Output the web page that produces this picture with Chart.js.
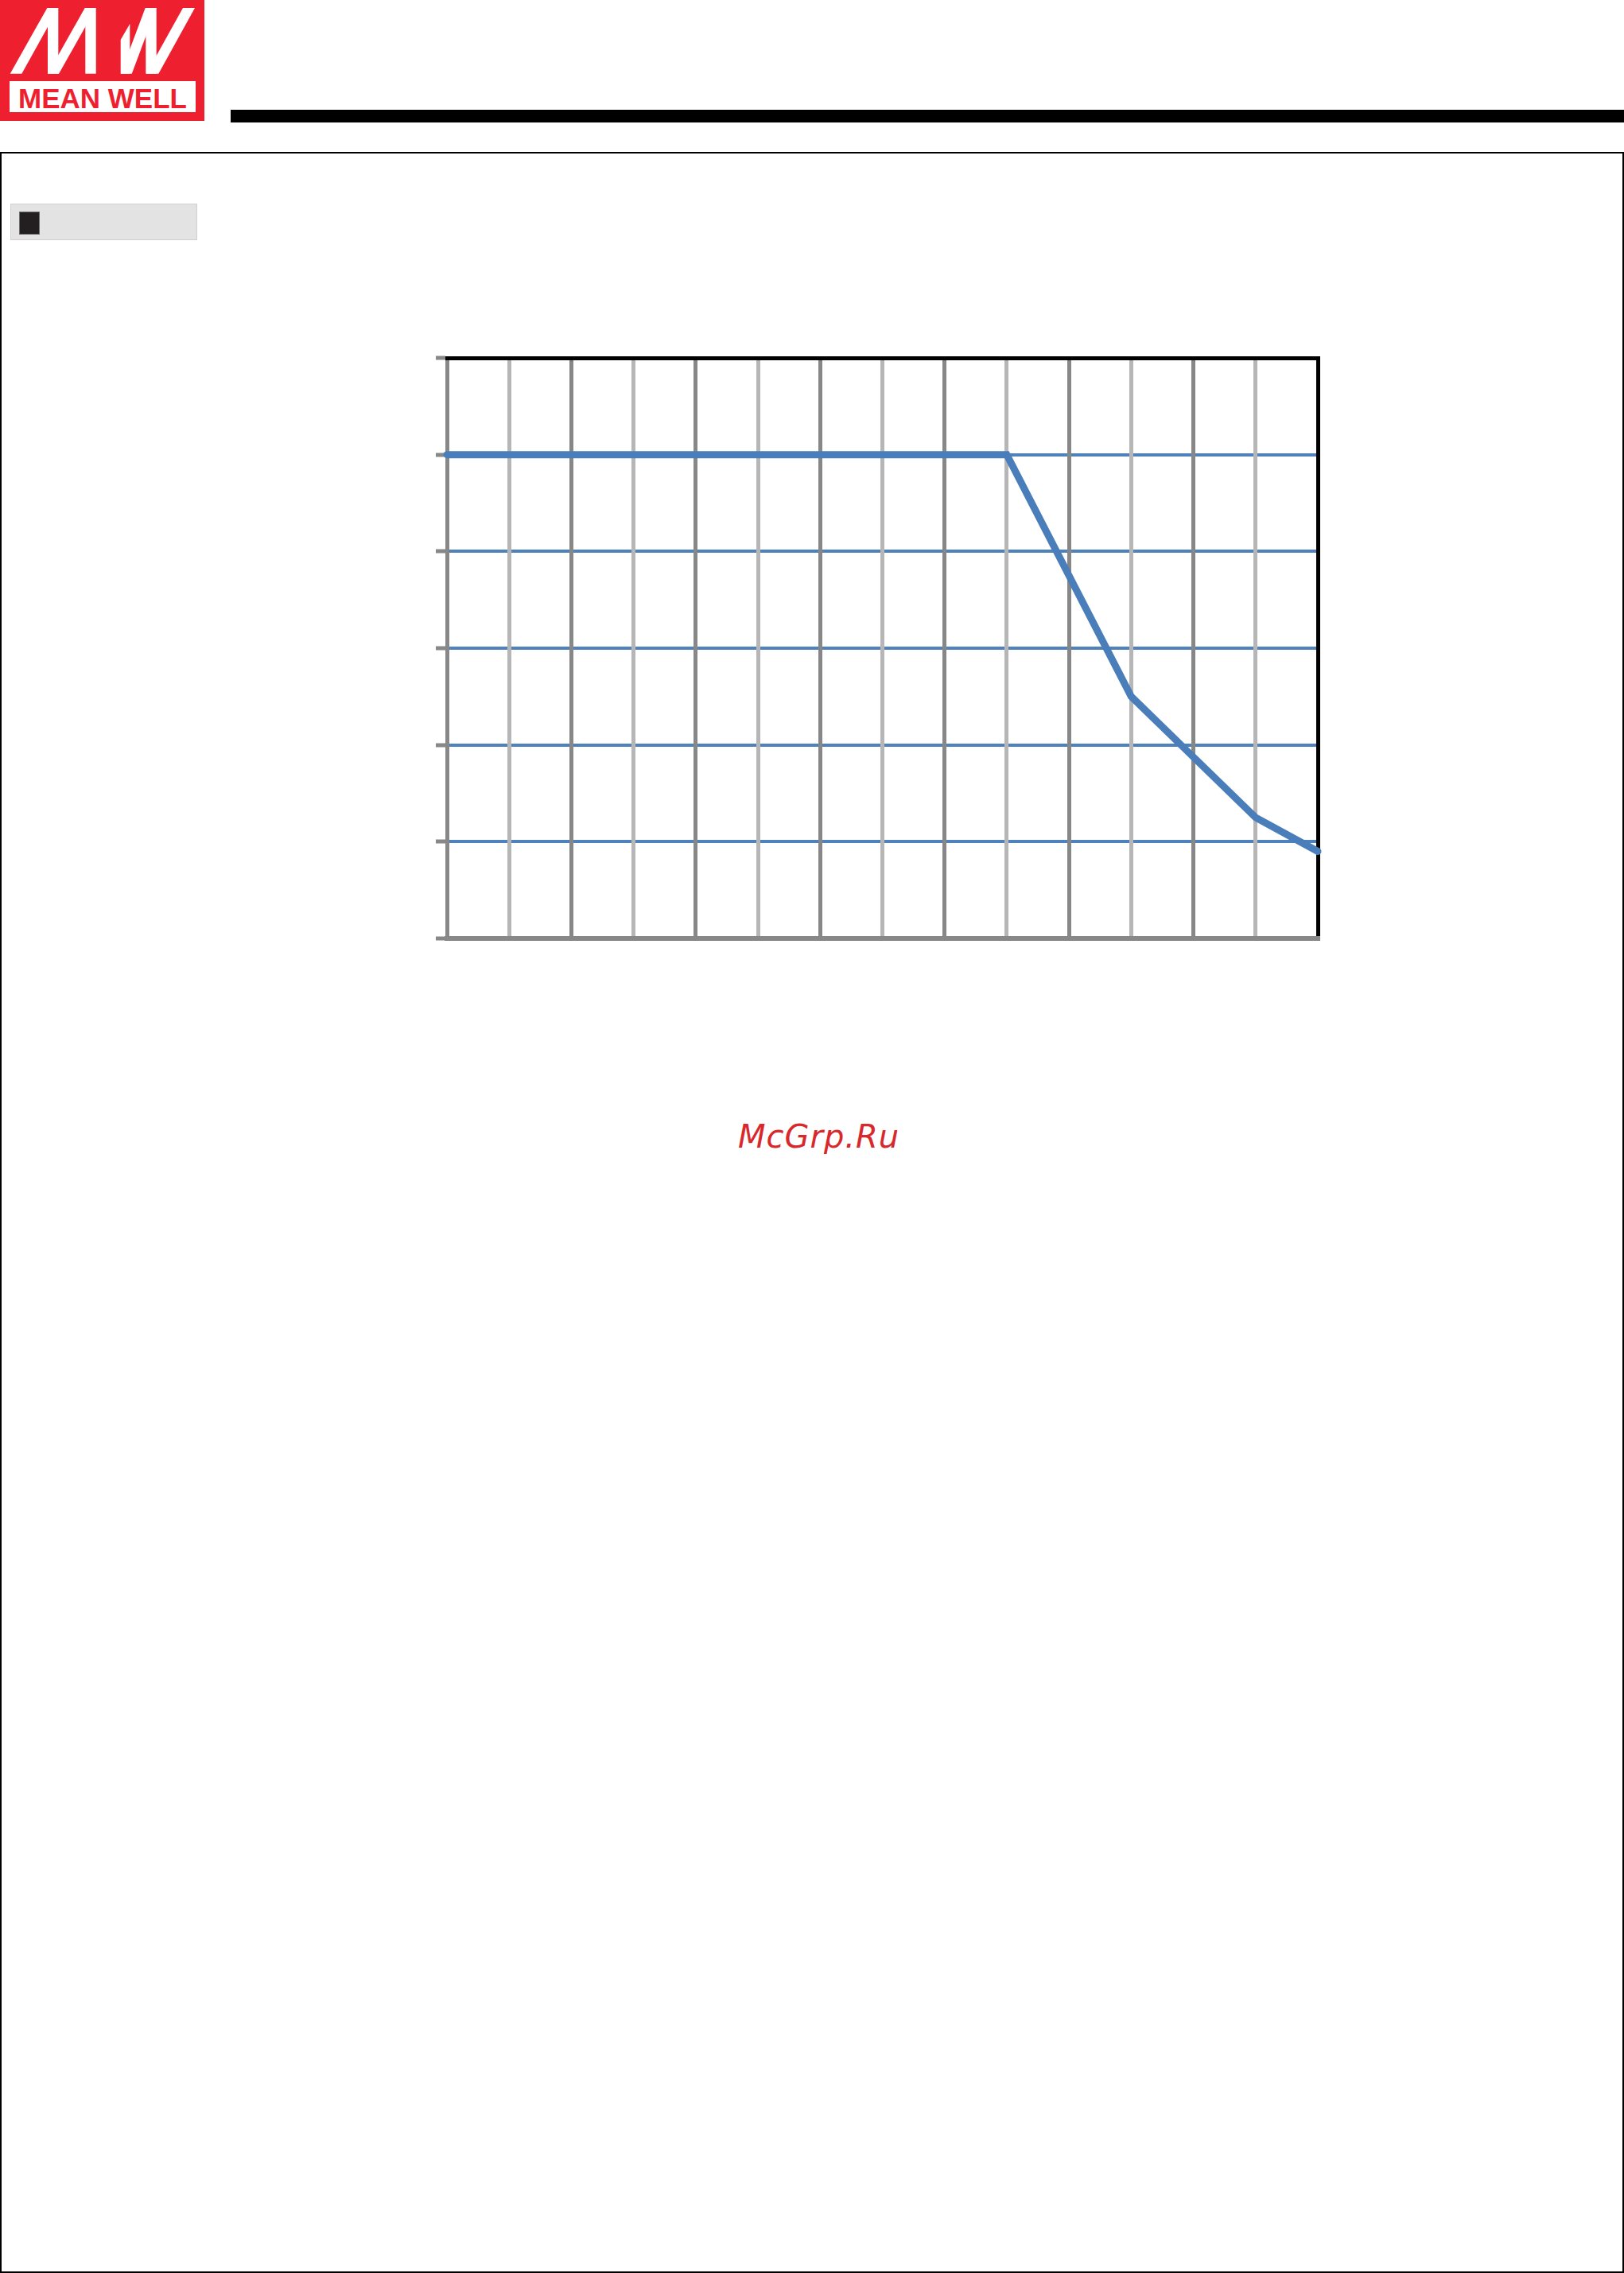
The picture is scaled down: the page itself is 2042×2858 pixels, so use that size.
<!DOCTYPE html>
<html>
<head>
<meta charset="utf-8">
<script src="https://cdn.jsdelivr.net/npm/chart.js@4.4.0/dist/chart.umd.min.js"></script>
<style>
  body { margin: 0; background: #fff; width: 2042px; height: 2858px; position: relative; overflow: hidden; }
  #logo { position: absolute; left: 0; top: 0; width: 257px; height: 152px; background: #ee1f2f; }
  #logo svg { position: absolute; left: 0; top: 0; }
  #logo-text { position: absolute; left: 12px; top: 102px; width: 234px; height: 39px; background: #fff;
    color: #ee1f2f; font: bold 35px "Liberation Sans", Arial, sans-serif; line-height: 39px; text-align: center; padding-top: 2px; box-sizing: border-box; }
  #barra { position: absolute; left: 290px; top: 138px; width: 1752px; height: 16px; background: #000; }
  #marco { position: absolute; left: 0; top: 191px; width: 2042px; height: 2667px; border: 2px solid #000; box-sizing: border-box; }
  #etiqueta { position: absolute; left: 13px; top: 256px; width: 235px; height: 46px; background: #e3e3e3; border: 1px solid #d0d0d0; box-sizing: border-box; }
  #cuadro { position: absolute; left: 24px; top: 266px; width: 26px; height: 29px; background: #231f20; border: 1px solid #6d6d6d; box-sizing: border-box; }
  #marca { position: absolute; left: 928px; top: 1409px; font: italic 40px "DejaVu Sans", sans-serif; line-height: 40px; color: #d8282c; letter-spacing: 1px; white-space: nowrap; }
  #chart-derating { position: absolute; left: 500px; top: 400px; }
</style>
</head>
<body>
<div id="logo">
  <svg width="257" height="100" viewBox="0 0 257 100">
    <g fill="#fff">
      <polygon points="12.7,92.7 27.3,92.7 73.3,10 59.3,10"/>
      <rect x="60" y="10" width="13.3" height="82.7"/>
      <polygon points="60,92.7 74,92.7 120.7,10 106.7,10"/>
      <rect x="107.3" y="10" width="13.4" height="82.7"/>
      <polygon points="151.7,92.7 163.3,92.7 163.3,30 151.7,50"/>
      <polygon points="151.7,92.7 165.7,92.7 196.7,10 182.7,10"/>
      <rect x="183.3" y="10" width="13.4" height="82.7"/>
      <polygon points="184,92.7 199.3,92.7 245,10 230,10"/>
    </g>
  </svg>
  <div id="logo-text">MEAN WELL</div>
</div>
<div id="barra"></div>
<div id="marco"></div>
<div id="etiqueta"></div>
<div id="cuadro"></div>
<div id="marca">McGrp.Ru</div>
<canvas id="chart-derating" width="1220" height="830"></canvas>

<script>
// Curva de derating
var temperaturas = [0, 45, 50, 55, 60, 65, 70];
var carga = [100, 100, 75, 50, 37.5, 25, 18];

// Ejes
var ejeXMin = 0, ejeXMax = 70, ejeXPaso = 5;
var ejeYMin = 0, ejeYMax = 120, ejeYPaso = 20;

var puntos = temperaturas.map(function (t, i) { return { x: t, y: carga[i] }; });

var contexto = document.getElementById('chart-derating').getContext('2d');
var chartDerating = new Chart(contexto, {
    type: 'line',
    data: {
        datasets: [{
            data: puntos,
            borderColor: '#4a7ebb',
            borderWidth: 9,
            borderCapStyle: 'round',
            borderJoinStyle: 'miter',
            pointRadius: 0,
            tension: 0,
            clip: false
        }]
    },
    options: {
        responsive: false,
        animation: false,
        layout: { padding: { left: 48, right: 63, top: 50, bottom: 50 } },
        plugins: { legend: { display: false }, tooltip: { enabled: false }, title: { display: false } },
        scales: {
            y: {
                type: 'linear',
                position: 'left',
                min: ejeYMin, max: ejeYMax,
                ticks: { stepSize: ejeYPaso, display: false },
                grid: {
                    z: -2,
                    color: '#4f81bd',
                    lineWidth: 4,
                    drawTicks: true,
                    tickLength: 14,
                    tickColor: '#888888',
                    tickWidth: 5
                },
                border: { display: true, color: '#888888', width: 5 },
                afterFit: function (escala) { escala.width = 14; }
            },
            y2: {
                type: 'linear',
                position: 'right',
                min: ejeYMin, max: ejeYMax,
                ticks: { display: false },
                grid: { display: false, drawTicks: false },
                border: { display: true, color: '#000000', width: 5 },
                afterFit: function (escala) { escala.width = 0; }
            },
            x: {
                type: 'linear',
                position: 'bottom',
                min: ejeXMin, max: ejeXMax,
                ticks: { stepSize: ejeXPaso, display: false },
                grid: {
                    z: -1,
                    drawTicks: false,
                    color: function (c) {
                        if (c.index === 14) return '#000000';
                        return c.index % 2 ? '#b6b6b6' : '#878787';
                    },
                    lineWidth: 5
                },
                border: { display: true, color: '#888888', width: 6 },
                afterFit: function (escala) { escala.height = 0; }
            },
            x2: {
                type: 'linear',
                position: 'top',
                min: ejeXMin, max: ejeXMax,
                ticks: { display: false },
                grid: { display: false, drawTicks: false },
                border: { display: true, color: '#000000', width: 5 },
                afterFit: function (escala) { escala.height = 0; }
            }
        }
    }
});
</script>
</body>
</html>
